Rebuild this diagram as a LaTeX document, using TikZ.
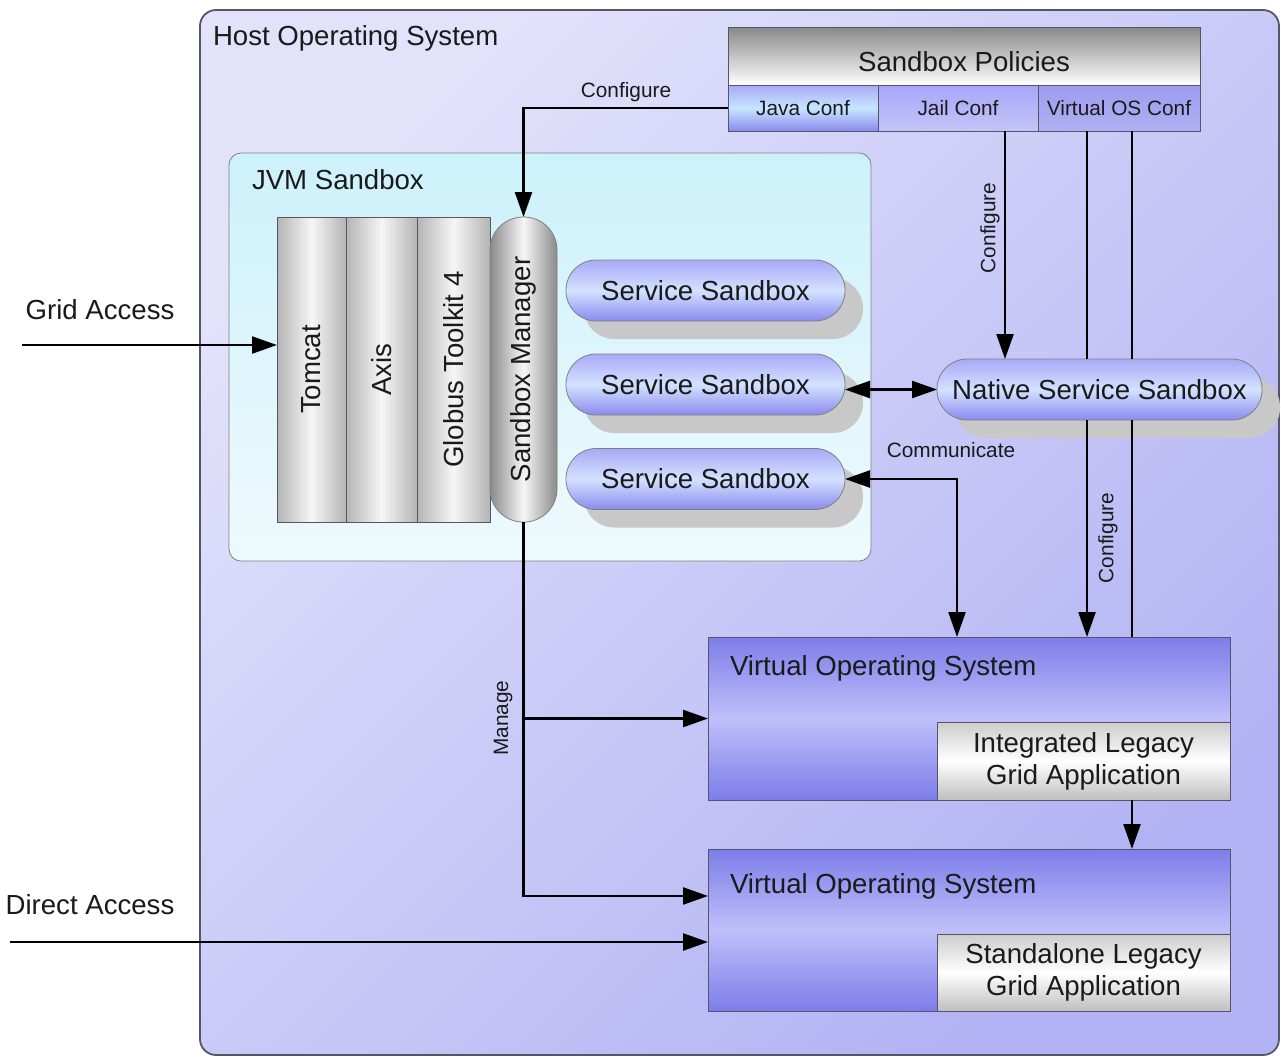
\documentclass[tikz,border=0pt]{standalone}
\usepackage{fontspec}
\setmainfont{Liberation Sans}
\usepackage{tikz}
\usetikzlibrary{arrows.meta,calc,shadows}
\definecolor{HostLight}{HTML}{E2E2FB}
\definecolor{HostDark}{HTML}{B2B2F4}
\definecolor{EdgeGray}{HTML}{55556A}
\definecolor{JvmTop}{HTML}{CDF1FB}
\definecolor{JvmBot}{HTML}{EEFAFD}
\definecolor{ColEdge}{HTML}{B4B4B4}
\definecolor{ColMid}{HTML}{F6F6F6}
\definecolor{MgrEdge}{HTML}{8A8A8A}
\definecolor{SvcTop}{HTML}{A9A9F6}
\definecolor{SvcMid}{HTML}{D3E2FF}
\definecolor{SvcBot}{HTML}{8A8AEE}
\definecolor{ShadowGray}{HTML}{C8C8C8}
\definecolor{VosDark}{HTML}{7D7DEA}
\definecolor{VosLight}{HTML}{BFBFFA}
\definecolor{PolTop}{HTML}{888888}
\definecolor{JailBlue}{HTML}{C4C4F8}
\definecolor{VconfBlue}{HTML}{9C9CF0}
\definecolor{JavaMid}{HTML}{C6E6FF}
\definecolor{TextDark}{HTML}{1A1A1A}
\newcommand{\mainfs}{\fontsize{13.8}{16}\selectfont}
\newcommand{\smallfs}{\fontsize{10.4}{12}\selectfont}

\begin{document}
\begin{tikzpicture}[x=0.5pt,y=-0.5pt,
          every node/.style={text=TextDark,outer sep=0pt},
          ar/.style={-{Triangle[length=12.5pt,width=8.5pt]},line width=1.2pt},
          ar2/.style={{Triangle[length=12.5pt,width=8.5pt]}-{Triangle[length=12.5pt,width=8.5pt]},line width=1.2pt},
          ln/.style={line width=1.2pt},
          lbl/.style={font=\smallfs},
          ttl/.style={font=\mainfs,inner sep=0pt},
          conf/.style={draw=EdgeGray,minimum height=23pt,inner sep=0pt,font=\smallfs},
          col/.style={draw=EdgeGray,left color=ColEdge,right color=ColEdge,middle color=ColMid,
            minimum height=152.5pt,inner sep=0pt,font=\mainfs},
          svc/.style={draw=gray,rounded corners=15pt,top color=SvcTop,bottom color=SvcBot,middle color=SvcMid,
            minimum height=30.5pt,inner sep=0pt,font=\mainfs,
            general shadow={fill=ShadowGray,shadow xshift=9pt,shadow yshift=-9pt}},
          vos/.style={draw=EdgeGray,top color=VosDark,bottom color=VosDark,middle color=VosLight,
            minimum width=261pt},
          legacy/.style={draw=EdgeGray,top color=gray!40,bottom color=gray!50,middle color=white,
            minimum width=146.5pt,inner sep=0pt,align=center,font=\fontsize{13.8}{16}\selectfont}]
        \fill[white] (0,0) rectangle (1281,1057);
        \useasboundingbox (0,0) rectangle (1281,1057);
        % host and policies
        \node[draw=EdgeGray,line width=0.9pt,rounded corners=8pt,top color=HostLight,bottom color=HostDark,
          shading angle=45,minimum width=539.5pt,minimum height=522.5pt] (host) at (739.5,532.5) {};
        \node[ttl,anchor=west] (hostT) at (213,38) {Host Operating System};
        \node[draw=EdgeGray,top color=PolTop,bottom color=white,minimum width=236pt,minimum height=29pt,
          font=\mainfs] (pol) at (964,56) {\smash{\raisebox{-7.5pt}{Sandbox Policies}}};
        \node[conf,top color=SvcTop,bottom color=SvcBot,middle color=JavaMid,minimum width=75pt]
        (javaconf) at (803,108) {Java Conf};
        \node[conf,top color=JailBlue!85!blue,bottom color=JailBlue,minimum width=80pt]
        (jailconf) at (958,108) {Jail Conf};
        \node[conf,top color=VconfBlue,bottom color=VconfBlue!80!white,minimum width=81pt]
        (vosconf) at (1119,108) {Virtual OS Conf};
        % jvm sandbox
        \node[draw=gray,rounded corners=6pt,top color=JvmTop,bottom color=JvmBot,
          minimum width=321pt,minimum height=204pt] (jvm) at (550,357) {};
        \node[ttl,anchor=west] (jvmT) at (252,180) {JVM Sandbox};
        \node[col,minimum width=34.5pt] (tomcat) at (311.5,369.5) {\rotatebox{90}{Tomcat}};
        \node[col,minimum width=35.5pt] (axis) at (381.5,369.5) {\rotatebox{90}{Axis}};
        \node[col,minimum width=36.5pt] (globus) at (453.5,369.5) {\rotatebox{90}{Globus Toolkit 4}};
        \node[draw=gray,rounded corners=16.5pt,left color=MgrEdge,right color=MgrEdge,middle color=ColMid,
          minimum width=33.5pt,minimum height=152.5pt,inner sep=0pt,font=\mainfs]
        (sbm) at (523.5,369.5) {\rotatebox{90}{Sandbox Manager}};
        \node[svc,minimum width=139.5pt] (svc1) at (705.5,290.5) {Service Sandbox};
        \node[svc,minimum width=139.5pt] (svc2) at (705.5,384.5) {Service Sandbox};
        \node[svc,minimum width=139.5pt] (svc3) at (705.5,479) {Service Sandbox};
        \node[svc,minimum width=162.5pt] (native) at (1099.5,389.5) {Native Service Sandbox};
        % virtual operating systems
        \node[vos,minimum height=81.5pt] (vos1) at (969,718.5) {};
        \node[ttl,anchor=west] (vos1T) at (730,668) {Virtual Operating System};
        \node[legacy,minimum height=39pt] (leg1) at (1083.5,761) {Integrated Legacy\\Grid Application};
        \node[vos,minimum height=81pt] (vos2) at (969,930) {};
        \node[ttl,anchor=west] (vos2T) at (730,886) {Virtual Operating System};
        \node[legacy,minimum height=38.5pt] (leg2) at (1083.5,972.5) {Standalone Legacy\\Grid Application};
        % free ends
        \coordinate (ga) at (22,345);
        \coordinate (da) at (10,942);
        \coordinate (cA) at (1005,0);
        \coordinate (cB) at (1087,0);
        \coordinate (cC) at (1132,0);
        \coordinate (cD) at (957,0);
        % connectors
        \draw[ar] (ga) -- (ga -| tomcat.west);
        \draw[ar] (da) -- (da -| vos2.west);
        \draw[ar] (javaconf.west) -| (sbm.north);
        \draw[ar] (cA |- jailconf.south) -- (cA |- native.north);
        \draw[ln] (cB |- vosconf.south) -- (cB |- native.north);
        \draw[ar] (cB |- native.south) -- (cB |- vos1.north);
        \draw[ln] (cC |- vosconf.south) -- (cC |- native.north);
        \draw[ln] (cC |- native.south) -- (cC |- vos1.north);
        \draw[ar] (cC |- leg1.south) -- (cC |- vos2.north);
        \draw[ar2] (native.west -| svc2.east) -- (native.west);
        \draw[ar2] (svc3.east) -| (cD |- vos1.north);
        \draw[ar] (sbm.south) |- ($(vos2.north west)!0.29!(vos2.south west)$);
        \draw[ar] (sbm.south |- vos1.west) -- (vos1.west);
        % labels
        \node[ttl] (lblGrid) at (100,310) {Grid Access};
        \node[ttl] (lblDirect) at (90,905) {Direct Access};
        \node[lbl] (lblCfg1) at (626,92) {Configure};
        \node[lbl,rotate=90] (lblCfg2) at (990,228) {Configure};
        \node[lbl,rotate=90] (lblCfg3) at (1108,538) {Configure};
        \node[lbl] (lblComm) at (951,450) {Communicate};
        \node[lbl,rotate=90] (lblMng) at (503,718) {Manage};
      \end{tikzpicture}
\end{document}
